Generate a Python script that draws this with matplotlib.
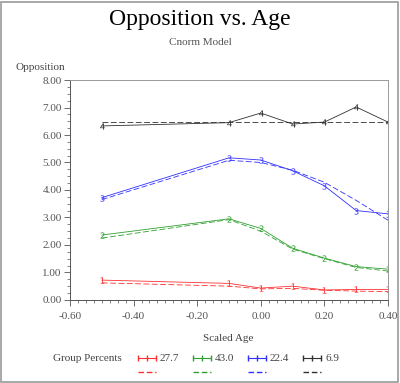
import matplotlib.pyplot as plt
from matplotlib.lines import Line2D
from matplotlib.patches import Rectangle
from matplotlib.ticker import MultipleLocator, FormatStrFormatter

# scaled age values
age = [-0.5, -0.1, 0.0, 0.1, 0.2, 0.3, 0.4]

groups = ["27.7", "43.0", "22.4", "6.9"]
colors = ["#ff3030", "#30a030", "#3030ff", "#303030"]
digits = ["1", "2", "3", "4"]

# observed (solid) and model (dashed) opposition
obs_277 = [0.72, 0.60, 0.43, 0.50, 0.36, 0.38, 0.38]
fit_277 = [0.62, 0.50, 0.40, 0.42, 0.35, 0.32, 0.30]
obs_430 = [2.36, 2.95, 2.60, 1.88, 1.52, 1.21, 1.12]
fit_430 = [2.25, 2.92, 2.50, 1.85, 1.50, 1.18, 1.05]
obs_224 = [3.72, 5.17, 5.09, 4.70, 4.15, 3.25, 3.13]
fit_224 = [3.65, 5.08, 5.00, 4.72, 4.28, 3.62, 2.90]
obs_69 = [6.33, 6.45, 6.80, 6.40, 6.47, 7.02, 6.47]
fit_69 = [6.48, 6.48, 6.48, 6.48, 6.48, 6.48, 6.48]

observed = [obs_277, obs_430, obs_224, obs_69]
fitted = [fit_277, fit_430, fit_224, fit_69]

plt.rcParams['font.family'] = ['Liberation Serif', 'DejaVu Serif']

fig = plt.figure(figsize=(4, 3.83), dpi=100)
ax = fig.add_axes([0.175, 0.217, 0.795, 0.574])

for obs, fit, c, d in zip(observed, fitted, colors, digits):
    ax.plot(age, obs, color=c, lw=0.6, marker='$' + d + '$', ms=4.5, mew=0)
    ax.plot(age, fit, color=c, lw=0.6, ls=(0, (7, 3)))

ax.set_xlim(-0.6, 0.4)
ax.set_ylim(0, 8)
ax.xaxis.set_major_locator(MultipleLocator(0.2))
ax.xaxis.set_minor_locator(MultipleLocator(0.025))
ax.yaxis.set_major_locator(MultipleLocator(1))
ax.yaxis.set_minor_locator(MultipleLocator(0.25))
ax.xaxis.set_major_formatter(FormatStrFormatter('%.2f'))
ax.yaxis.set_major_formatter(FormatStrFormatter('%.2f'))
ax.tick_params(labelsize=8, labelcolor='#555555', color='#555555', length=4, width=0.6)
ax.tick_params(which='minor', length=2, width=0.5, color='#555555')
ax.tick_params(axis='x', pad=5)
ax.tick_params(axis='y', pad=2)
for s in ax.spines.values():
    s.set_color('#555555')
    s.set_linewidth(0.7)
ax.spines['top'].set_color('#999999')
ax.spines['right'].set_color('#999999')

fig.text(0.5, 0.948, "Opposition vs. Age", ha='center', va='center', fontsize=17)
fig.text(0.5, 0.888, "Cnorm Model", ha='center', va='center', fontsize=8, color='#555555')
fig.text(0.10, 0.825, "Opposition", ha='center', va='center', fontsize=8, color='#444444')
fig.text(0.57, 0.117, "Scaled Age", ha='center', va='center', fontsize=8, color='#444444')

# legend
fig.text(0.133, 0.065, "Group Percents", ha='left', va='center', fontsize=8, color='#444444')
lx = [0.345, 0.483, 0.620, 0.758]
for x0, c, g in zip(lx, colors, groups):
    fig.add_artist(Line2D([x0, x0 + 0.045], [0.065, 0.065], color=c, lw=0.8,
                          marker='|', ms=5, markevery=[0, 1]))
    fig.add_artist(Line2D([x0 + 0.0225], [0.065], color=c, marker='|', ms=5))
    fig.add_artist(Line2D([x0, x0 + 0.045], [0.030, 0.030], color=c, lw=1.0, ls=(0, (4, 2))))
    fig.text(x0 + 0.055, 0.065, g, ha='left', va='center', fontsize=8, color='#444444')

fig.add_artist(Rectangle((0.002, 0.002), 0.994, 0.994, transform=fig.transFigure,
                         fill=False, ec='#999999', lw=1.2))

fig.savefig("out.png", dpi=100)
